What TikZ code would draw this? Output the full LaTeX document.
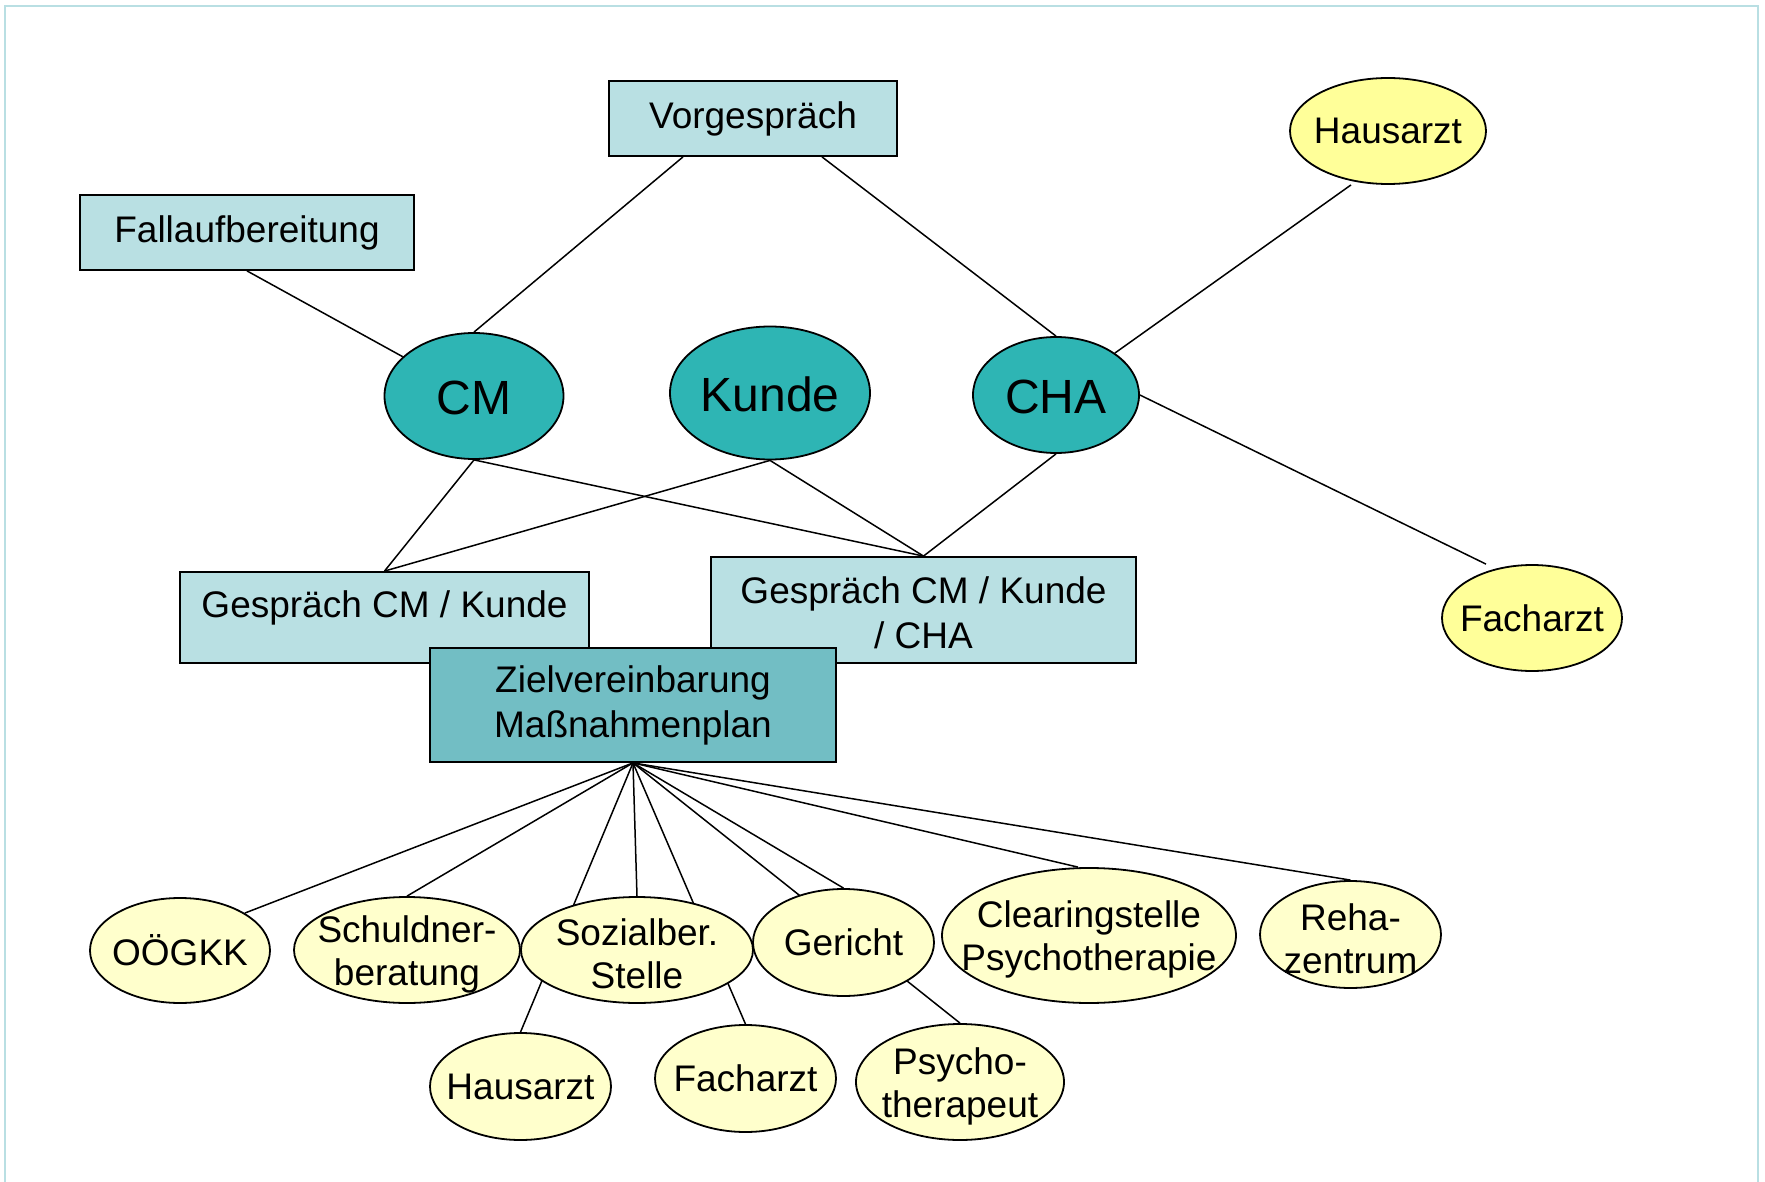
\documentclass[tikz,border=0pt]{standalone}
\usepackage{fontspec}
\setmainfont{Liberation Sans}
\usetikzlibrary{shapes.geometric,backgrounds,calc}
\definecolor{boxlight}{HTML}{B9E0E3}
\definecolor{tealc}{HTML}{2EB5B4}
\definecolor{zielc}{HTML}{72BEC4}
\definecolor{yelpale}{HTML}{FFFFCC}
\definecolor{yelbright}{HTML}{FFFF99}
\definecolor{framec}{HTML}{B9DFE3}
\begin{document}
\begin{tikzpicture}[x=1pt,y=-1pt,
  base/.style={draw=black, line width=1.8pt, inner sep=0pt, align=center,
    font=\fontsize{37}{45}\selectfont},
  box/.style={base, rectangle, fill=boxlight},
  lbl/.style={align=center, inner sep=0pt, font=\fontsize{37}{43}\selectfont},
  lbltwo/.style={lbl, yshift=-4pt},
  biglbl/.style={align=center, inner sep=0pt, yshift=-1.5pt, font=\fontsize{48}{52}\selectfont},
  tealell/.style={base, ellipse, fill=tealc},
  yel/.style={base, ellipse, fill=yelpale},
  yelb/.style={base, ellipse, fill=yelbright},
  conn/.style={line width=1.5pt, black}]
\useasboundingbox (0,0) rectangle (1765,1182);
\draw[framec, line width=2.5pt] (5,1182) -- (5,6) -- (1758,6) -- (1758,1182);

% top row
\node[box, minimum width=288, minimum height=75] (vg) at (753,118.5) {Vorgespräch};
\node[box, minimum width=334, minimum height=75] (fall) at (247,232.5) {Fallaufbereitung};
\node[yelb, minimum width=196, minimum height=106, label={[lbl]center:Hausarzt}] (ha1) at (1388,131) {};

% main actors
\node[tealell, minimum width=179, minimum height=126, label={[biglbl]center:CM}] (cm) at (474,396) {};
\node[tealell, minimum width=200, minimum height=133, label={[biglbl]center:Kunde}] (ku) at (770,393) {};
\node[tealell, minimum width=166, minimum height=116, label={[biglbl]center:CHA}] (cha) at (1056,395) {};

\node[yelb, minimum width=180, minimum height=106, label={[lbl]center:Facharzt}] (fa1) at (1532,618) {};

% conversations
\node[box, minimum width=409, minimum height=91, text height=26, text depth=26] (gck) at (384.5,617.5) {Gespräch CM / Kunde};
\node[box, minimum width=425, minimum height=106, text height=77, text depth=0] (gckc) at (923.5,610) {Gespräch CM / Kunde\\/ CHA};
\node[box, fill=zielc, minimum width=406, minimum height=114] (ziel) at (633,705) {Zielvereinbarung\\Maßnahmenplan};

% bottom row
\node[yel, minimum width=180, minimum height=105, label={[lbl]center:OÖGKK}] (oo) at (180,950.5) {};
\node[yel, minimum width=226, minimum height=106, label={[lbltwo]center:Schuldner-\\beratung}] (sb) at (407,950) {};
\node[yel, minimum width=232, minimum height=106, label={[lbltwo]center:Sozialber.\\Stelle}] (soz) at (637,950) {};
\node[yel, minimum width=181, minimum height=107, label={[lbl]center:Gericht}] (ger) at (843.5,942.5) {};
\node[yel, minimum width=294, minimum height=135, label={[lbltwo]center:Clearingstelle\\Psychotherapie}] (cl) at (1089,935.5) {};
\node[yel, minimum width=181, minimum height=107, label={[lbltwo]center:Reha-\\zentrum}] (reha) at (1350.5,934.5) {};
\node[yel, minimum width=181, minimum height=107, label={[lbl]center:Hausarzt}] (ha2) at (520.5,1086.5) {};
\node[yel, minimum width=181, minimum height=107, label={[lbl]center:Facharzt}] (fa2) at (745.5,1078.5) {};
\node[yel, minimum width=208, minimum height=116, label={[lbltwo]center:Psycho-\\therapeut}] (psy) at (960,1082) {};

\begin{pgfonlayer}{background}
\draw[conn] ($(vg.south)+(-70,0)$) -- (cm.north);
\draw[conn] ($(vg.south)+(69,0)$) -- (cha.north);
\draw[conn] (fall.south) -- (cm);
\draw[conn] ($(ha1.south)+(-37,0)$) -- (cha);
\draw[conn] (cha.east) -- ($(fa1.north)+(-46,0)$);
\draw[conn] (cm.south) -- (gck.north);
\draw[conn] (cm.south) -- (gckc.north);
\draw[conn] (ku.south) -- (gck.north);
\draw[conn] (ku.south) -- (gckc.north);
\draw[conn] (cha.south) -- (gckc.north);
\draw[conn] (ziel.south) -- (oo.30);
\draw[conn] (ziel.south) -- (sb.north);
\draw[conn] (ziel.south) -- (soz.north);
\draw[conn] (ziel.south) -- (ger.north);
\draw[conn] (ziel.south) -- ($(cl.north)+(-11,0)$);
\draw[conn] (ziel.south) -- (reha.north);
\draw[conn] (ziel.south) -- (ha2.north);
\draw[conn] (ziel.south) -- (fa2.north);
\draw[conn] (ziel.south) -- (psy.north);
\end{pgfonlayer}
\end{tikzpicture}
\end{document}
